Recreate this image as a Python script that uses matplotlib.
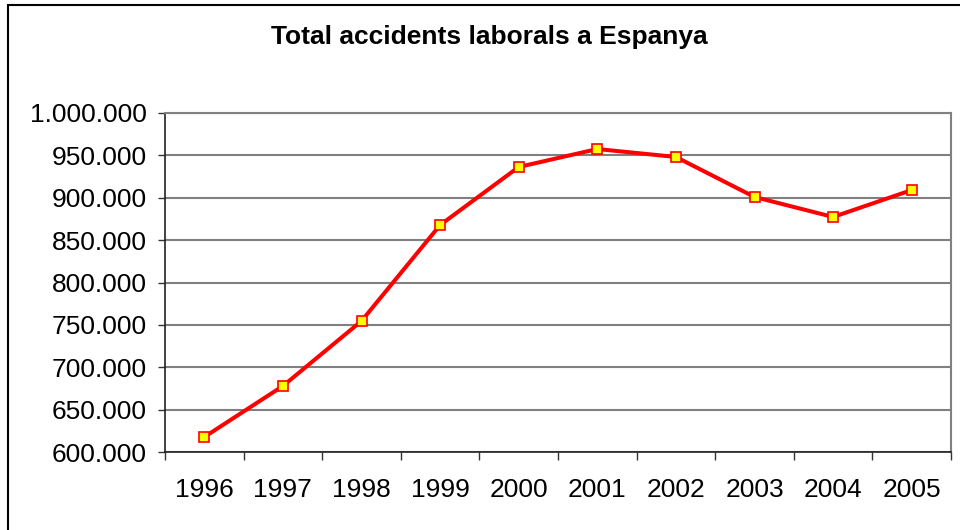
import matplotlib
matplotlib.use("Agg")
import matplotlib.pyplot as plt
from matplotlib.patches import Rectangle
from matplotlib.ticker import FuncFormatter, MultipleLocator

years = ["1996", "1997", "1998", "1999", "2000", "2001", "2002", "2003", "2004", "2005"]
accidents = [617700, 677900, 754600, 867800, 936300, 957500, 948100, 900900, 877300, 909100]
title = "Total accidents laborals a Espanya"

plt.rcParams['font.family'] = ['Liberation Sans', 'DejaVu Sans']

W, H = 960, 530
fig = plt.figure(figsize=(W / 100, H / 100), dpi=100)
ax = fig.add_axes([165 / W, 1 - 452 / H, (951 - 165) / W, (452 - 113) / H])

x = list(range(len(years)))
ax.plot(x, accidents, color='#ff0000', lw=2.9, marker='s', markersize=7.5,
        markerfacecolor='#ffff00', markeredgecolor='#ff0000', markeredgewidth=1.2,
        zorder=5, clip_on=False)

ax.set_xlim(-0.5, len(years) - 0.5)
ax.set_ylim(600000, 1000000)
ax.yaxis.set_major_locator(MultipleLocator(50000))
ax.yaxis.set_major_formatter(FuncFormatter(lambda v, p: f"{int(v):,}".replace(",", ".")))
ax.set_xticks(x)
ax.set_xticklabels(years)
ax.set_xticks([i - 0.5 for i in range(len(years) + 1)], minor=True)
ax.tick_params(axis='x', which='major', length=0, pad=19, labelsize=19)
ax.tick_params(axis='x', which='minor', length=6, width=1, direction='out', color='#333333')
ax.tick_params(axis='y', length=5, width=1, direction='out', pad=8, labelsize=19, color='#333333')

ax.grid(axis='y', color='#808080', lw=1.5)
ax.set_axisbelow(True)
for s in ['top', 'right']:
    ax.spines[s].set_color('#808080')
    ax.spines[s].set_linewidth(1.5)
for s in ['left', 'bottom']:
    ax.spines[s].set_color('#222222')
    ax.spines[s].set_linewidth(1.2)

fig.text(0.5 * (270 + 708) / W, 1 - 37 / H, title, ha='center', va='center',
         fontsize=19, fontweight='bold')

fig.patches.append(Rectangle((7.5 / W, -0.1), 1.2, 1 - 4.5 / H + 0.1,
                             transform=fig.transFigure, fill=False,
                             edgecolor='black', lw=1.5))

fig.savefig("out.png", dpi=100)
